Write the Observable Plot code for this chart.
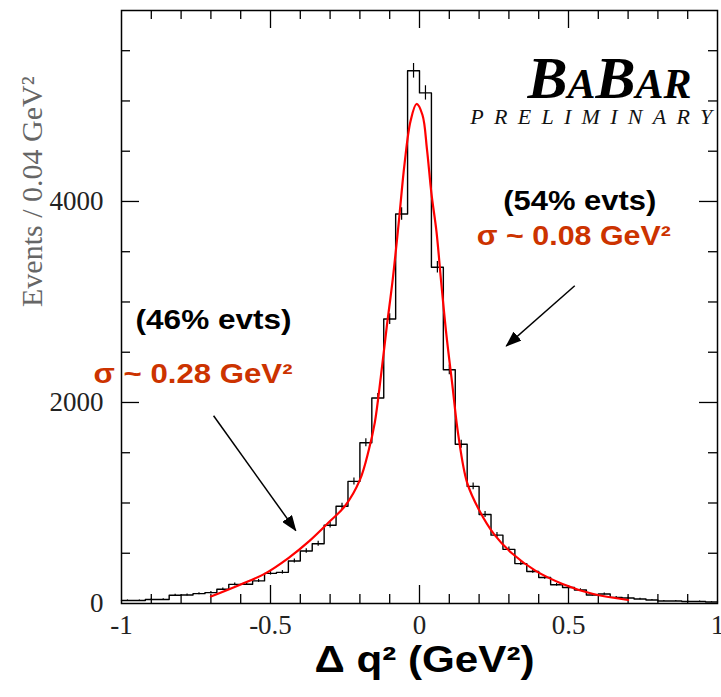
<!DOCTYPE html>
<html><head><meta charset="utf-8">
<script src="https://cdn.jsdelivr.net/npm/d3@7"></script>
<script src="https://cdn.jsdelivr.net/npm/@observablehq/plot@0.6"></script>
<style>
html,body{margin:0;padding:0;background:#fff;}
#chart svg{display:block;background:#fff;}
</style>
</head><body><div id="chart"></div>
<script>
// ---- data ----
const binLow = -1, binWidth = 0.04;
const counts = [30, 30, 40, 40, 82, 85, 98, 108, 142, 190,
                192, 225, 300, 310, 423, 522, 595, 779, 967, 1215,
                1600, 2045, 2830, 3875, 5300, 5080, 3345, 2325, 1584, 1165,
                885, 680, 539, 397, 318, 258, 186, 159, 135, 85,
                95, 61, 55, 45, 35, 25, 25, 20, 20, 15];
const fitX = [-0.70, -0.60, -0.52, -0.44, -0.37, -0.30, -0.25, -0.20, -0.17, -0.15,
              -0.13, -0.11, -0.09, -0.07, -0.05, -0.03, -0.01, 0.01, 0.025, 0.04,
              0.057, 0.073, 0.09, 0.11, 0.13, 0.16, 0.20, 0.25, 0.31, 0.39,
              0.48, 0.58, 0.70];
const fitY = [70, 190, 295, 452, 620, 820, 970, 1230, 1530, 1800,
              2250, 2750, 3220, 3780, 4380, 4800, 4970, 4860, 4520, 4080,
              3700, 3190, 2680, 2180, 1680, 1200, 930, 690, 500, 325,
              195, 97, 35];
const xTickValues = [-1, -0.5, 0, 0.5, 1];
const xTickLabels = ["-1", "-0.5", "0", "0.5", "1"];
const yTickValues = [0, 2000, 4000];
const yTickLabels = ["0", "2000", "4000"];
const xMinorTicks = [-0.9, -0.8, -0.7, -0.6, -0.4, -0.3, -0.2, -0.1, 0.1, 0.2, 0.3, 0.4, 0.6, 0.7, 0.8, 0.9];
const yMinorTicks = [500, 1000, 1500, 2500, 3000, 3500, 4500, 5000, 5500];
const yMajorTicks = [2000, 4000];
const xMajorTicks = [-0.5, 0, 0.5];
const notesText = ["(54% evts)", "σ ~ 0.08 GeV²", "(46% evts)", "σ ~ 0.28 GeV²"];
const notesX = [0.538, 0.518, -0.691, -0.760];
const notesY = [4003, 3654, 2819, 2284];
const notesColor = ["black", "#cc3300", "black", "#cc3300"];
const arrowFromX = [0.521, -0.691], arrowFromY = [3161, 1868];
const arrowToX = [0.291, -0.415], arrowToY = [2562, 725];

// ---- derived tables ----
const steps = counts.map((c, i) => ({x: binLow + i * binWidth, y: c}))
  .concat([{x: binLow + counts.length * binWidth, y: counts[counts.length - 1]}]);
const bars = counts.map((c, i) => ({x: binLow + (i + 0.5) * binWidth, y: c, e: Math.sqrt(c)}));
const fit = fitX.map((x, i) => ({x, y: fitY[i]}));
const notes = notesText.map((t, i) => ({t, x: notesX[i], y: notesY[i], c: notesColor[i]}));
const arrows = arrowFromX.map((x, i) => ({x1: x, y1: arrowFromY[i], x2: arrowToX[i], y2: arrowToY[i]}));

const W = 721, H = 697, mL = 121, mR = 4, mT = 10, mB = 94;
const fw = W - mL - mR, fh = H - mT - mB;
const serif = "Liberation Serif, Times New Roman, serif";
const sans = "Liberation Sans, Arial, Helvetica, sans-serif";

const plot = Plot.plot({
  width: W, height: H,
  marginLeft: mL, marginRight: mR, marginTop: mT, marginBottom: mB,
  x: {domain: [-1, 1], axis: null},
  y: {domain: [0, 5900], axis: null},
  marks: [
    // ticks (inward, all four sides)
    Plot.tickX(xMinorTicks, {x: d => d, insetTop: fh - 9, stroke: "black", strokeWidth: 1.3}),
    Plot.tickX(xMinorTicks, {x: d => d, insetBottom: fh - 9, stroke: "black", strokeWidth: 1.3}),
    Plot.tickX(xMajorTicks, {x: d => d, insetTop: fh - 18, stroke: "black", strokeWidth: 1.3}),
    Plot.tickX(xMajorTicks, {x: d => d, insetBottom: fh - 18, stroke: "black", strokeWidth: 1.3}),
    Plot.tickY(yMinorTicks, {y: d => d, insetRight: fw - 9, stroke: "black", strokeWidth: 1.3}),
    Plot.tickY(yMinorTicks, {y: d => d, insetLeft: fw - 9, stroke: "black", strokeWidth: 1.3}),
    Plot.tickY(yMajorTicks, {y: d => d, insetRight: fw - 18, stroke: "black", strokeWidth: 1.3}),
    Plot.tickY(yMajorTicks, {y: d => d, insetLeft: fw - 18, stroke: "black", strokeWidth: 1.3}),
    // histogram
    Plot.line(steps, {x: "x", y: "y", curve: "step-after", stroke: "black", strokeWidth: 1.4}),
    Plot.ruleX(bars, {x: "x", y1: d => d.y - d.e, y2: d => d.y + d.e, stroke: "black", strokeWidth: 1.2}),
    // fit
    Plot.line(fit, {x: "x", y: "y", curve: "catmull-rom", stroke: "#ff0000", strokeWidth: 2.2}),
    Plot.frame({stroke: "black", strokeWidth: 1.5}),
    // tick labels
    Plot.text(xTickValues, {x: d => d, text: (d, i) => xTickLabels[i], frameAnchor: "bottom", dy: 30,
      fontSize: 27, fontFamily: serif, fill: "#222"}),
    Plot.text(yTickValues, {y: d => d, text: (d, i) => yTickLabels[i], frameAnchor: "left", textAnchor: "end", dx: -18,
      fontSize: 27, fontFamily: serif, fill: "#222"}),
    // axis titles
    Plot.text(["Events / 0.04 GeV²"], {frameAnchor: "left", dx: -89, rotate: -90,
      fontSize: 30, fontFamily: serif, fill: "#666"}),
    Plot.text(["Δ q² (GeV²)"], {frameAnchor: "bottom", dy: 68, dx: 5,
      fontSize: 36, fontFamily: sans, fontWeight: "bold", fill: "black"}),
    // logo
    Plot.text(["BaBar"], {x: [0.913], y: [5225], text: d => d, textAnchor: "end", fontSize: 60,
      fontFamily: serif, fontStyle: "italic", fontWeight: "bold", fontVariant: "small-caps", fill: "black"}),
    Plot.text(["PRELIMINARY"], {x: [0.576], y: [4845], text: d => d, fontSize: 22,
      fontFamily: serif, fontStyle: "italic", fill: "#111"}),
    // annotations
    Plot.link(arrows, {x1: "x1", y1: "y1", x2: "x2", y2: "y2", stroke: "black", strokeWidth: 1.5, markerEnd: "arrow"}),
    Plot.text(notes, {x: "x", y: "y", text: "t", fill: "c", fontSize: 27, fontFamily: sans, fontWeight: "bold"})
  ]
});
document.getElementById("chart").appendChild(plot);

// horizontal stretch of slide text to match reference widths
const targetWidths = {
  "(54% evts)": [153, "spacingAndGlyphs"],
  "σ ~ 0.08 GeV²": [194, "spacingAndGlyphs"],
  "(46% evts)": [156, "spacingAndGlyphs"],
  "σ ~ 0.28 GeV²": [199, "spacingAndGlyphs"],
  "PRELIMINARY": [242, "spacing"],
  "Δ q² (GeV²)": [220, "spacingAndGlyphs"]
};
d3.select(plot).selectAll("text").each(function() {
  const t = this.textContent;
  if (targetWidths[t]) {
    this.setAttribute("textLength", targetWidths[t][0]);
    this.setAttribute("lengthAdjust", targetWidths[t][1]);
  }
});
// filled arrow heads
const svg = d3.select(plot);
const defs = svg.insert("defs", ":first-child");
defs.append("marker").attr("id", "fillhead").attr("viewBox", "0 0 16 12")
  .attr("refX", 15).attr("refY", 6).attr("markerWidth", 16).attr("markerHeight", 12)
  .attr("markerUnits", "userSpaceOnUse").attr("orient", "auto")
  .append("path").attr("d", "M0,0L16,6L0,12Z").attr("fill", "black");
svg.selectAll("g[aria-label='link'] path").attr("marker-end", "url(#fillhead)");
</script>
</body></html>
